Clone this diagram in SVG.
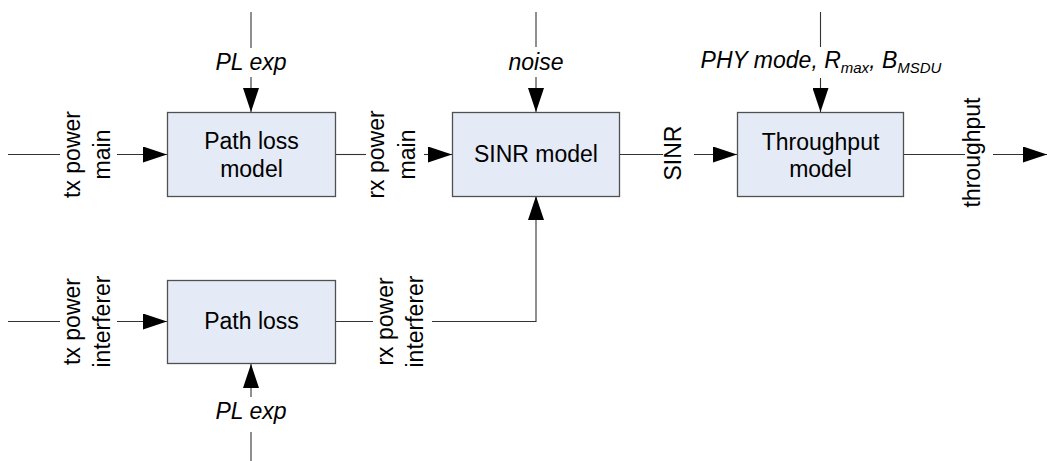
<svg xmlns="http://www.w3.org/2000/svg" width="1047" height="461" viewBox="0 0 1047 461">
<style>
  text { font-family: "Liberation Sans", Arial, sans-serif; font-size: 23px; fill: #000; }
  .lbl { text-anchor: middle; }
  .it { font-style: italic; }
  .box { fill: #E4EBF6; stroke: #505050; stroke-width: 1.3; }
  .wire { fill: none; stroke: #333; stroke-width: 1.1; }
  .sub { font-size: 15px; }
</style>
<defs>
  <marker id="arr" markerUnits="userSpaceOnUse" markerWidth="24" markerHeight="16" refX="24" refY="8" orient="auto">
    <path d="M0,0 L24,8 L0,16 Z" fill="#000"/>
  </marker>
</defs>
<rect width="1047" height="461" fill="#fff"/>

<g id="connectors">
  <line class="wire" x1="251" y1="12" x2="251" y2="48"/>
  <line class="wire" x1="251" y1="77" x2="251" y2="112" marker-end="url(#arr)"/>
  <line class="wire" x1="8" y1="154.5" x2="60" y2="154.5"/>
  <line class="wire" x1="117" y1="154.5" x2="167" y2="154.5" marker-end="url(#arr)"/>
  <line class="wire" x1="335" y1="154.5" x2="366" y2="154.5"/>
  <line class="wire" x1="424" y1="154.5" x2="452" y2="154.5" marker-end="url(#arr)"/>
  <line class="wire" x1="536" y1="12" x2="536" y2="47"/>
  <line class="wire" x1="536" y1="77" x2="536" y2="112" marker-end="url(#arr)"/>
  <line class="wire" x1="619" y1="154.5" x2="663" y2="154.5"/>
  <line class="wire" x1="694" y1="154.5" x2="737" y2="154.5" marker-end="url(#arr)"/>
  <line class="wire" x1="820.5" y1="12" x2="820.5" y2="47"/>
  <line class="wire" x1="820.5" y1="78" x2="820.5" y2="112" marker-end="url(#arr)"/>
  <line class="wire" x1="903" y1="154.5" x2="965" y2="154.5"/>
  <line class="wire" x1="993" y1="154.5" x2="1047" y2="154.5" marker-end="url(#arr)"/>
  <line class="wire" x1="8" y1="321.5" x2="60" y2="321.5"/>
  <line class="wire" x1="117" y1="321.5" x2="167" y2="321.5" marker-end="url(#arr)"/>
  <line class="wire" x1="251" y1="461" x2="251" y2="432"/>
  <line class="wire" x1="251" y1="397" x2="251" y2="364" marker-end="url(#arr)"/>
  <line class="wire" x1="335" y1="321.5" x2="373" y2="321.5"/>
  <path class="wire" d="M432,321.5 H536 V196" marker-end="url(#arr)"/>
</g>

<g id="labels">
  <text class="lbl it" x="251" y="70">PL exp</text>
  <text class="lbl it" x="251" y="419">PL exp</text>
  <text class="lbl it" x="536" y="70">noise</text>
  <text class="lbl it" x="821" y="68">PHY mode, R<tspan class="sub" dy="5">max</tspan><tspan dy="-5">, B</tspan><tspan class="sub" dy="5">MSDU</tspan></text>
  <text class="lbl" transform="translate(0,154.5) rotate(-90)"><tspan x="0" y="80">tx power</tspan><tspan x="0" y="110">main</tspan></text>
  <text class="lbl" transform="translate(0,154.5) rotate(-90)"><tspan x="0" y="384">rx power</tspan><tspan x="0" y="415">main</tspan></text>
  <text class="lbl" transform="translate(0,153) rotate(-90)"><tspan x="0" y="681">SINR</tspan></text>
  <text class="lbl" transform="translate(0,152.5) rotate(-90)"><tspan x="0" y="980">throughput</tspan></text>
  <text class="lbl" transform="translate(0,321.5) rotate(-90)"><tspan x="0" y="80">tx power</tspan><tspan x="0" y="110">interferer</tspan></text>
  <text class="lbl" transform="translate(0,321.5) rotate(-90)"><tspan x="0" y="393">rx power</tspan><tspan x="0" y="423">interferer</tspan></text>
</g>

<g id="pathloss-main">
  <rect class="box" x="167.5" y="112.5" width="168" height="84"/>
  <text class="lbl" x="251.5" y="149">Path loss</text>
  <text class="lbl" x="251.5" y="177">model</text>
</g>
<g id="sinr-model">
  <rect class="box" x="452.5" y="112.5" width="167" height="84"/>
  <text class="lbl" x="536" y="162">SINR model</text>
</g>
<g id="throughput-model">
  <rect class="box" x="737.5" y="112.5" width="166" height="84"/>
  <text class="lbl" x="820.5" y="150">Throughput</text>
  <text class="lbl" x="820.5" y="177">model</text>
</g>
<g id="pathloss-interferer">
  <rect class="box" x="167.5" y="280.5" width="168" height="83"/>
  <text class="lbl" x="251.5" y="329">Path loss</text>
</g>
</svg>
